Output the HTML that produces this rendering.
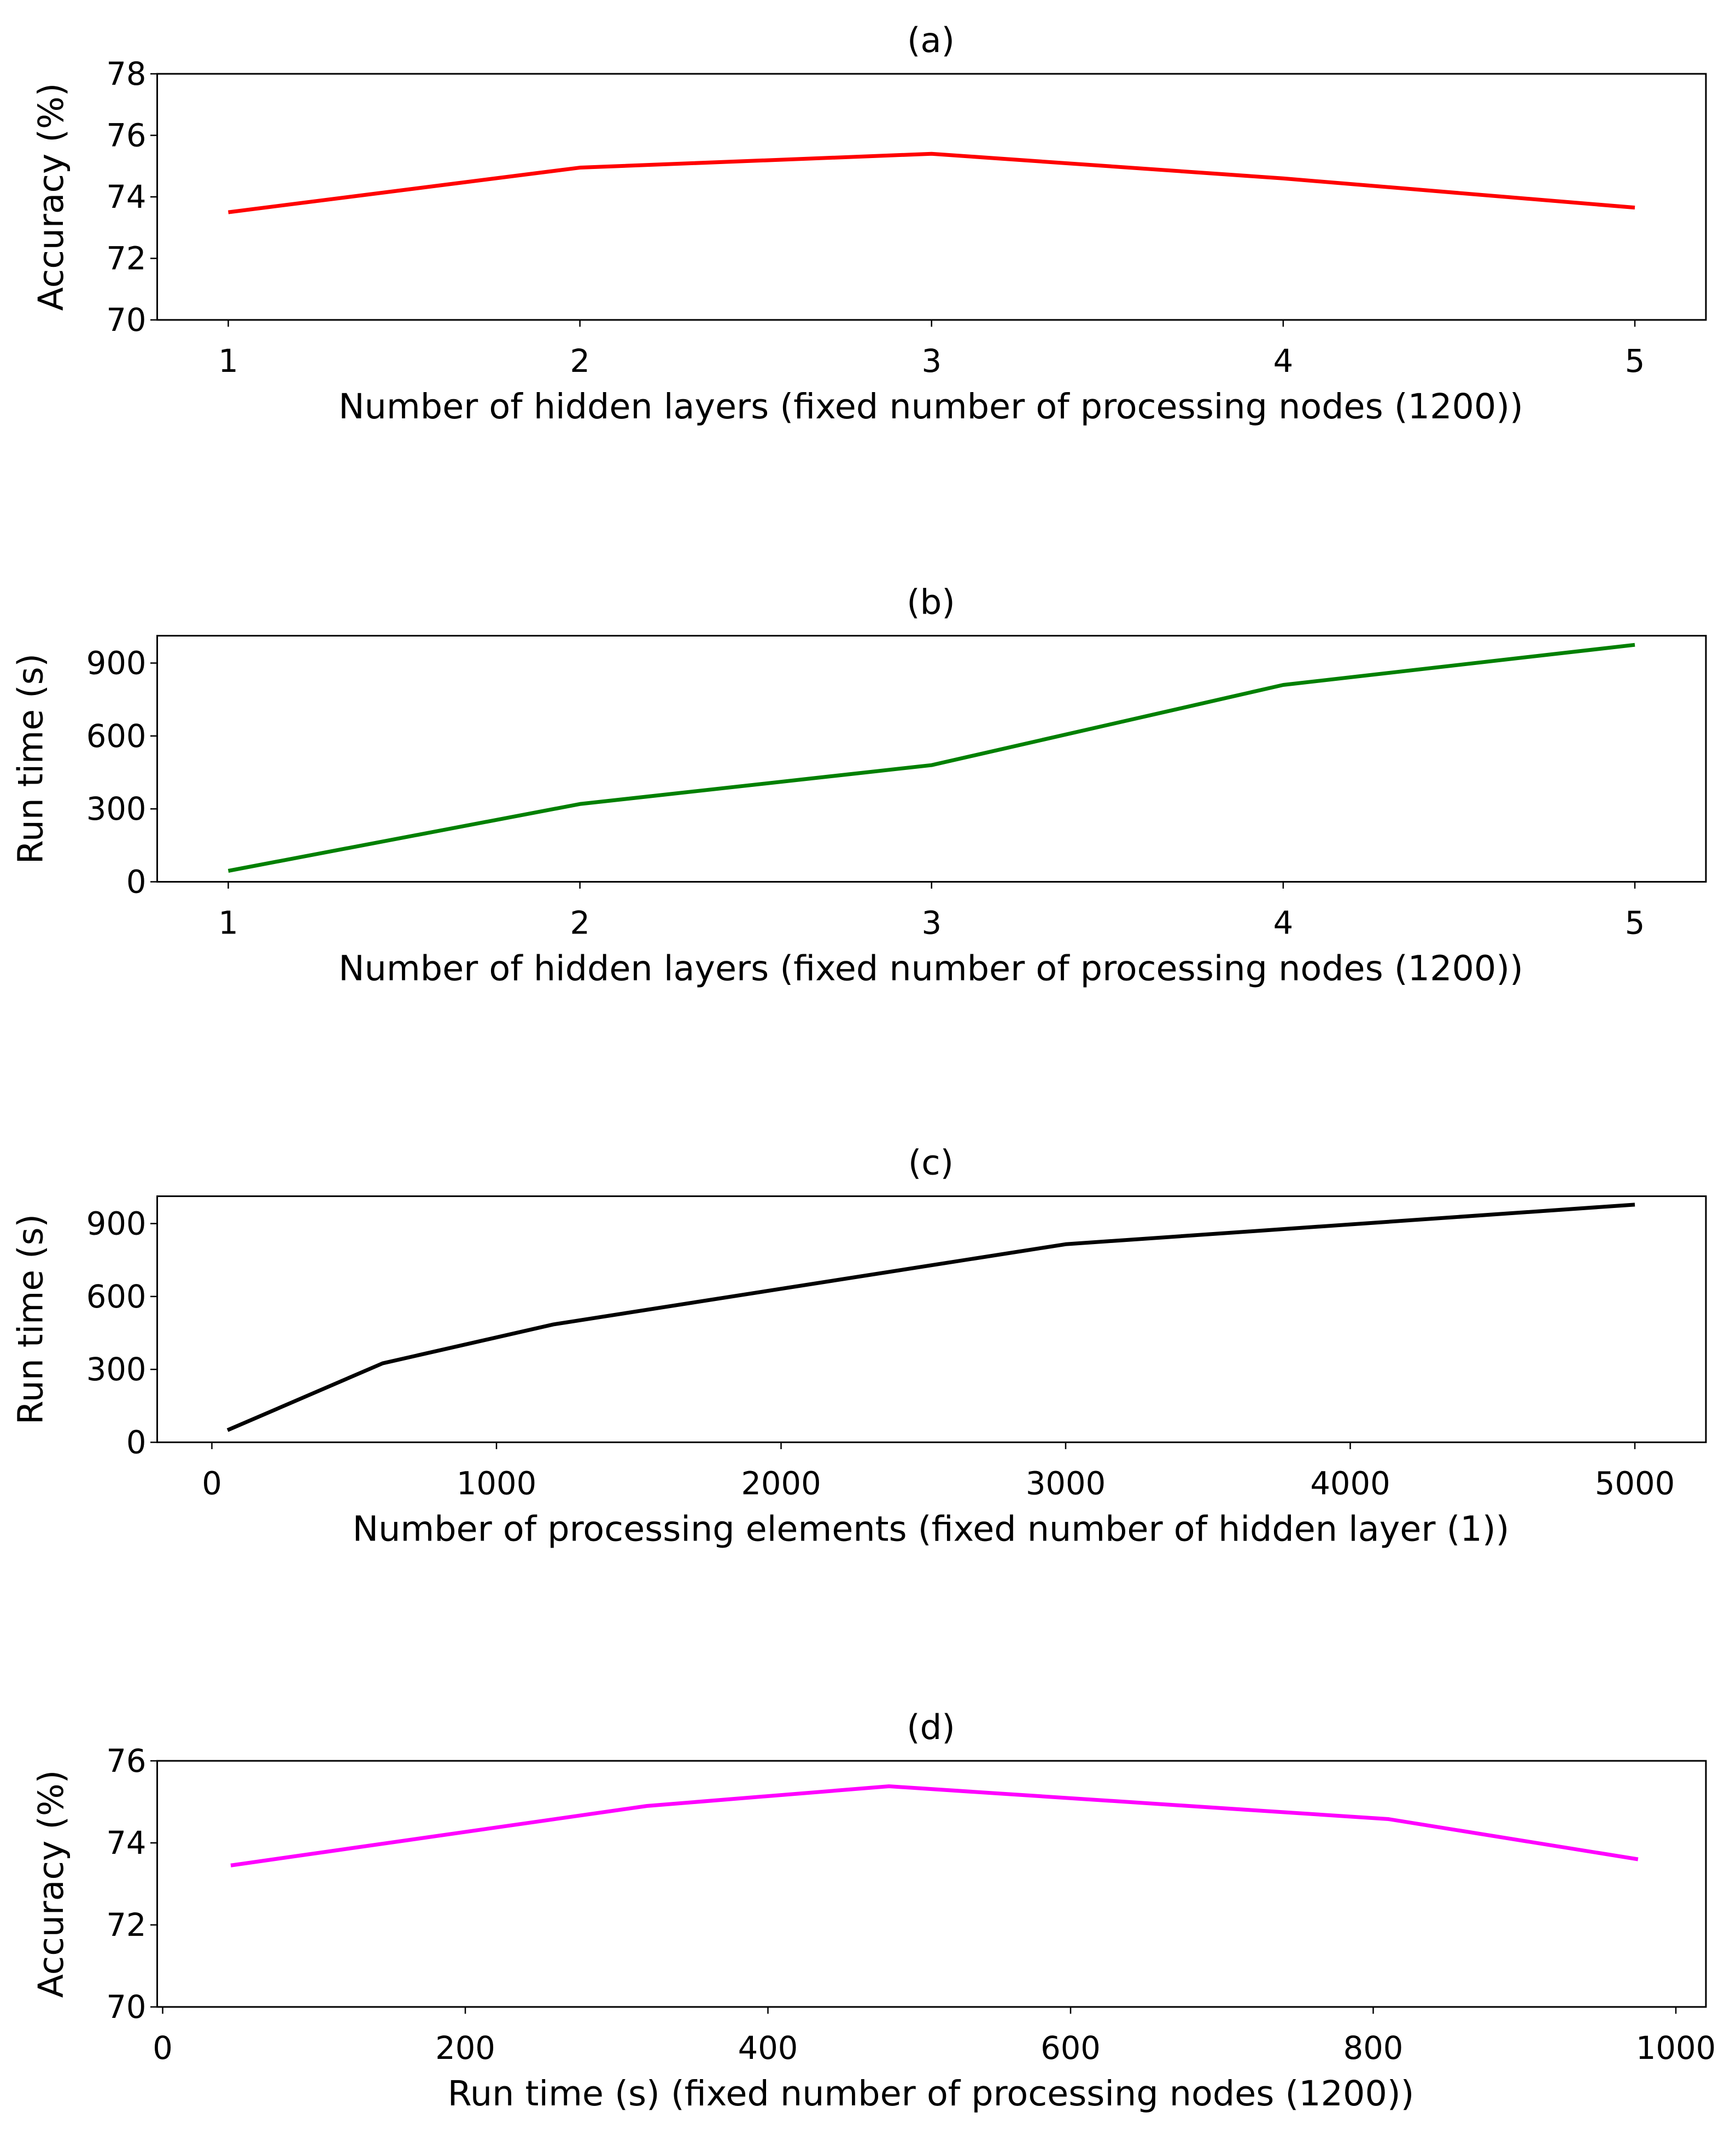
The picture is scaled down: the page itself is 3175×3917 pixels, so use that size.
<!DOCTYPE html>
<html><head><meta charset="utf-8"><style>
html,body{margin:0;padding:0;background:#fff;}
svg{display:block;}
text{font-family:"DejaVu Sans","Liberation Sans",sans-serif;fill:#000;}
</style></head><body>
<svg id="fig" width="3175" height="3917" viewBox="0 0 1270 1566.8" preserveAspectRatio="none" xmlns="http://www.w3.org/2000/svg"></svg>
<script>
const xLayers = [1, 2, 3, 4, 5];
const accA = [73.5, 74.95, 75.4, 74.6, 73.65];
const runB = [45, 320, 480, 810, 975];
const xElems = [55, 600, 1200, 3000, 5000];
const runC = [50, 325, 485, 815, 978];
const runD = [45, 320, 480, 810, 975];
const accD = [73.45, 74.9, 75.38, 74.58, 73.6];
const ticksXA = [1, 2, 3, 4, 5];
const ticksYA = [70, 72, 74, 76, 78];
const ticksYB = [0, 300, 600, 900];
const ticksXC = [0, 1000, 2000, 3000, 4000, 5000];
const ticksYD = [70, 72, 74, 76];
const ticksXD = [0, 200, 400, 600, 800, 1000];

const NS = "http://www.w3.org/2000/svg";
const svg = document.getElementById('fig');
function el(tag, attrs, parent, txt){
  const e = document.createElementNS(NS, tag);
  for (const k in attrs) e.setAttribute(k, attrs[k]);
  if (txt !== undefined) e.textContent = txt;
  (parent || svg).appendChild(e);
  return e;
}
function panel(cfg){
  const g = el('g', {});
  
  
  const L = 115, R = 1248, T = cfg.top, B = cfg.top + 180;
  const sx = v => cfg.x0px + (v - cfg.xmin) / (cfg.xmax - cfg.xmin) * (cfg.x1px - cfg.x0px);
  const sy = v => B - (v - cfg.ymin) / (cfg.ymax - cfg.ymin) * (B - T);
  const title = el('text', {x: 681, y: T - 16, 'font-size': 25, 'text-anchor': 'middle'}, g, '(' + cfg.id + ')');
  
  
  cfg.xt.forEach(t => {
    const x = sx(t);
    el('line', {x1: x, x2: x, y1: B, y2: B + 5, stroke: '#000', 'stroke-width': 1}, g);
    const tl = el('text', {x: x, y: B + 38, 'font-size': 23, 'text-anchor': 'middle'}, g, t);
    
    
  });
  cfg.yt.forEach(t => {
    const y = sy(t);
    el('line', {x1: L - 5, x2: L, y1: y, y2: y, stroke: '#000', 'stroke-width': 1}, g);
    const tl = el('text', {x: L - 8, y: y + 8, 'font-size': 23, 'text-anchor': 'end'}, g, t);
    
    
  });
  const pts = cfg.xs.map((v, i) => sx(v).toFixed(2) + ',' + sy(cfg.ys[i]).toFixed(2)).join(' ');
  const line = el('polyline', {points: pts, fill: 'none', stroke: cfg.color, 'stroke-width': 2.8, 'stroke-linejoin': 'round'}, g);
  
  
  const frame = el('rect', {x: L, y: T, width: R - L, height: B - T, fill: 'none', stroke: '#000', 'stroke-width': 1.2}, g);
  
  
  const xl = el('text', {x: 681, y: B + 72, 'font-size': 25.4, 'text-anchor': 'middle'}, g, cfg.xlabel);
  
  
  const yl = el('text', {x: 0, y: 0, 'font-size': 25.2, 'text-anchor': 'middle', transform: 'translate(' + cfg.ylx + ',' + ((T + B) / 2) + ') rotate(-90)'}, g, cfg.ylabel);
  
  
}
const lbl = 'Number of hidden layers (fixed number of processing nodes (1200))';
panel({id: 'a', top: 54, xmin: 1, xmax: 5, x0px: 167, x1px: 1196, ymin: 70, ymax: 78, xt: ticksXA, yt: ticksYA, xs: xLayers, ys: accA, color: '#ff0000', xlabel: lbl, ylabel: 'Accuracy (%)', ylx: 46});
panel({id: 'b', top: 465, xmin: 1, xmax: 5, x0px: 167, x1px: 1196, ymin: 0, ymax: 1012.5, xt: ticksXA, yt: ticksYB, xs: xLayers, ys: runB, color: '#008000', xlabel: lbl, ylabel: 'Run time (s)', ylx: 31});
panel({id: 'c', top: 875, xmin: 0, xmax: 5000, x0px: 155, x1px: 1196, ymin: 0, ymax: 1012.5, xt: ticksXC, yt: ticksYB, xs: xElems, ys: runC, color: '#000000', xlabel: 'Number of processing elements (fixed number of hidden layer (1))', ylabel: 'Run time (s)', ylx: 31});
panel({id: 'd', top: 1288, xmin: 0, xmax: 1000, x0px: 119, x1px: 1226, ymin: 70, ymax: 76, xt: ticksXD, yt: ticksYD, xs: runD, ys: accD, color: '#ff00ff', xlabel: 'Run time (s) (fixed number of processing nodes (1200))', ylabel: 'Accuracy (%)', ylx: 46});
</script>
</body></html>
